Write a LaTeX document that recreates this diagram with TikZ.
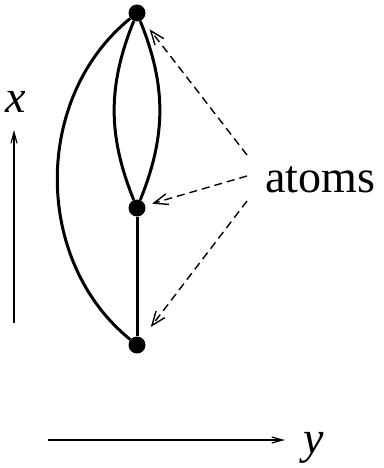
\documentclass[tikz,border=0pt]{standalone}
\usepackage{fontspec}
\setmainfont{Liberation Serif}
\usetikzlibrary{arrows.meta, positioning}

\tikzset{
  atom/.style={circle, fill=black, inner sep=0pt, minimum size=17pt},
  bond/.style={line width=3pt},
  pointer/.style={line width=1.4pt, dash pattern=on 8pt off 5pt,
    -{Straight Barb[length=14pt, width=11pt, line width=1.4pt]}},
  axis/.style={line width=1.2pt,
    -{Straight Barb[length=11pt, width=6pt, line width=1.2pt]}}
}

\begin{document}
\begin{tikzpicture}[x=1pt, y=-1pt, font=\fontsize{46}{50}\selectfont]
\useasboundingbox (0,0) rectangle (383,468);
% ---------------- atoms and bonds ----------------
\node[atom] (top) at (137,13) {};
\node[atom] (mid) at (137,208) {};
\node[atom] (bot) at (137,345) {};
\draw[bond] (top) to[bend right=51] (bot);   % outer arc
\draw[bond] (top) to[bend right=22] (mid);   % lens, left
\draw[bond] (top) to[bend left=22] (mid);    % lens, right
\draw[bond] (mid) -- (bot);
% ---------------- label with pointers ----------------
\node[anchor=base west, inner sep=0pt] (lbl) at (265,192) {atoms};
\coordinate (p1) at (247,155);
\coordinate (p2) at (247,176);
\coordinate (p3) at (247,201);
\draw[pointer, shorten >=12pt] (p1) -- (top);
\draw[pointer, shorten >=7pt] (p2) -- (mid);
\draw[pointer, shorten >=14pt] (p3) -- (bot);
% ---------------- axes ----------------
\coordinate (xs) at (14,323);
\coordinate (xe) at (14,130);
\draw[axis] (xs) -- (xe);
\node[inner sep=0pt] (xl) at (16,102) {\textit{x}};
\coordinate (ys) at (48,440);
\coordinate (ye) at (285,440);
\draw[axis] (ys) -- (ye);
\node[anchor=base west, inner sep=0pt] (yl) at (303,453) {\textit{y}};
\end{tikzpicture}
\end{document}
